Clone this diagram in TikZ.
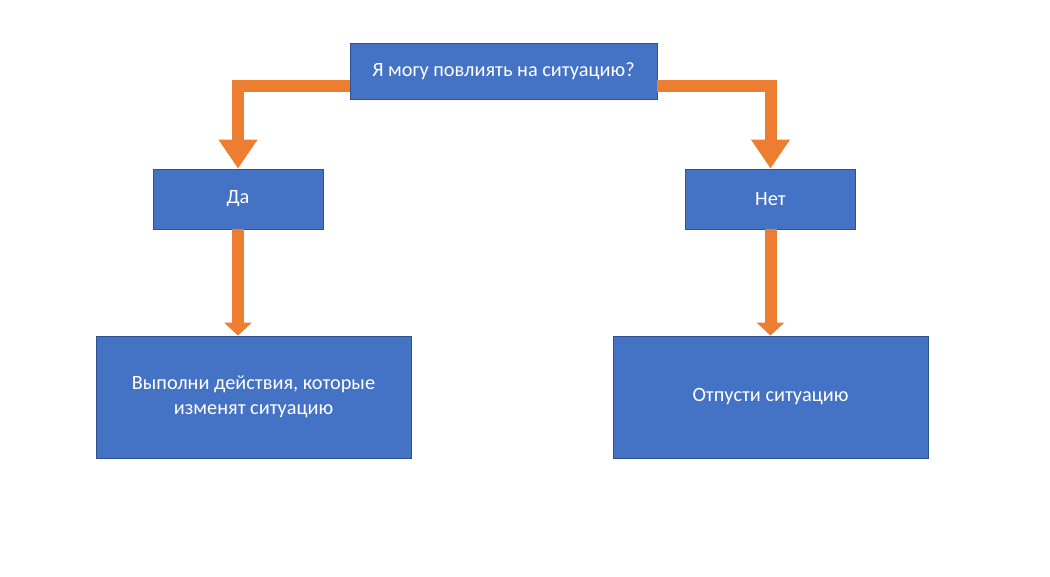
\documentclass[tikz,border=0pt]{standalone}
\usepackage{fontspec}
\setmainfont{Carlito}
\usetikzlibrary{arrows.meta}
\definecolor{boxblue}{HTML}{4472C4}
\definecolor{boxedge}{HTML}{2F528F}
\definecolor{arrorange}{HTML}{ED7D31}
\begin{document}
\begin{tikzpicture}[x=1pt,y=1pt,
    box/.style={
      draw=boxedge,fill=boxblue,line width=0.8pt,
      text=white,align=center,inner sep=0pt,
      font=\fontsize{20.3}{25}\selectfont},
    arr/.style={arrorange,line width=12pt,-{Triangle[width=37pt,length=29pt]}},
    short/.style={arrorange,line width=12pt,-{Triangle[width=27pt,length=13pt]}}
]
\useasboundingbox (0,0) rectangle (1050,576);
\node[box,minimum width=307pt,minimum height=56pt] (ask) at (503.5,505) {Я могу повлиять на ситуацию?};
\node[box,minimum width=170pt,minimum height=60pt] (yes) at (238,377) {Да};
\node[box,minimum width=170pt,minimum height=60pt] (no)  at (770.5,377) {Нет};
\node[box,minimum width=315pt,minimum height=122pt] (act) at (253.5,179) {Выполни действия, которые\\изменят ситуацию};
\node[box,minimum width=315pt,minimum height=122pt] (let) at (770.5,179) {Отпусти ситуацию};

\draw[arr] ([yshift=-15pt]ask.west) -| (yes.north);
\draw[arr] ([yshift=-15pt]ask.east) -| (no.north);

\draw[short] (yes.south) -- (yes.south |- act.north);
\draw[short] (no.south)  -- (no.south |- let.north);
\end{tikzpicture}
\end{document}
